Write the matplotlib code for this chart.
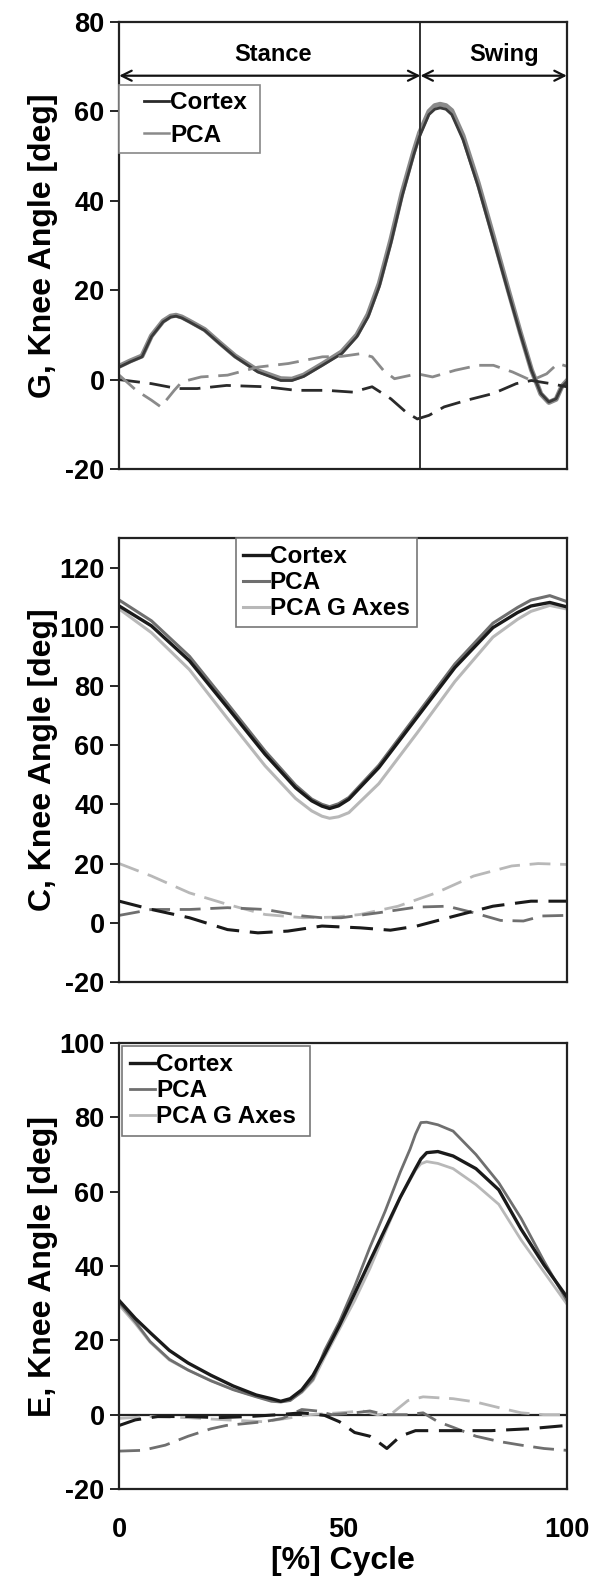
import numpy as np
import matplotlib
matplotlib.use('Agg')
import matplotlib.pyplot as plt
from matplotlib.lines import Line2D

plt.rcParams['font.family'] = ['Liberation Sans', 'DejaVu Sans']
plt.rcParams['font.weight'] = 'bold'
plt.rcParams['axes.unicode_minus'] = False

# ---- G panel ----
g_x = [0, 2.5, 5.1, 7.2, 9.8, 11.5, 12.7, 14, 15.7, 19.1, 22.5, 25.9, 31, 36.1, 38.6, 41.2, 45.4,
       49.7, 53.1, 55.6, 58.1, 60.7, 63.2, 65.8, 67.1, 69.2, 70.5, 71.7, 73, 74.3, 76.8, 80.2,
       83.6, 87, 89.6, 92.1, 94.2, 96, 97.6, 98.9, 100]
g_cortex = [2.8, 4, 5.1, 9.6, 12.9, 14.0, 14.2, 13.8, 12.9, 11, 8, 5.1, 1.7, -0.2, -0.2, 0.7,
            3.2, 5.8, 9.6, 14, 20.8, 30.5, 41, 50.3, 54.4, 59.3, 60.5, 60.8, 60.5, 59.3, 53.7,
            43.2, 31.3, 19.3, 10.3, 2.1, -3.1, -5, -4.3, -1.6, -0.5]
g_pca = [3.0, 4.2, 5.3, 9.8, 13.1, 14.2, 14.4, 14.0, 13.1, 11.2, 8.2, 5.3, 2.0, 0.2, 0.1, 1.0,
         3.5, 6.2, 10.0, 14.6, 21.5, 31.3, 41.8, 51.0, 55.2, 60.0, 61.3, 61.6, 61.3, 60.2, 54.6,
         44.0, 32.0, 19.8, 10.6, 2.2, -3.2, -5.1, -4.4, -1.5, -0.3]

g_dash_x = [0, 7.2, 13, 17.4, 24, 32.7, 39.5, 46.3, 52.2, 56.5, 60.7, 64.1, 66.6, 69.2, 72.6,
            77.7, 83.6, 88.7, 92.1, 96.4, 100]
g_cortex_dash = [0, -0.9, -2, -2, -1.3, -1.6, -2.4, -2.4, -2.8, -1.6, -4.3, -7.3, -8.8, -8,
                 -6.1, -4.6, -3.1, -0.9, -0.2, -0.9, -1.6]
g_pca_dash_x = [0, 3.8, 7.2, 9.3, 12.3, 14, 18.3, 24.2, 31, 37.8, 45.4, 49.7, 53.9, 56.5, 59,
                61.5, 66.6, 70, 75.1, 80.2, 83.6, 87.9, 92.1, 95.5, 98, 100]
g_pca_dash = [1, -2.4, -4.6, -6.1, -2.4, -0.5, 0.6, 1, 2.8, 3.6, 5.1, 5.2, 5.8, 5.1, 2.1,
              0.2, 1.3, 0.6, 2.1, 3.2, 3.2, 1.7, -0.2, 1.3, 3.6, 3.0]

# ---- C panel ----
c_x = [0, 7.2, 15.7, 24.2, 32.6, 39.4, 43, 45.3, 47, 49, 51.3, 58, 66.5, 75, 83.5, 89, 92, 96.2, 100]
c_cortex = [107, 100.3, 88.5, 72.7, 56.9, 45.6, 41.2, 39.4, 38.6, 39.5, 41.7, 52.4, 69.3, 86.2,
            99.7, 104.8, 107, 108.2, 106.7]
c_pca = [109, 102.0, 90.0, 74.0, 58.0, 46.5, 41.8, 40.0, 39.2, 40.2, 42.3, 53.2, 70.3, 87.4,
         101.2, 106.5, 109.0, 110.5, 108.5]
c_pca_g = [106, 98.0, 85.5, 69.0, 53.0, 42.0, 37.8, 36.0, 35.3, 35.8, 37.2, 47.0, 64.0, 81.5,
           96.5, 102.5, 105.2, 107.2, 106.0]

c_dash_x = [0, 7.2, 15.7, 24.2, 31, 37.7, 45.3, 53.8, 60.6, 66.5, 75, 83.5, 92, 100]
c_cortex_dash = [7.3, 4.5, 1.7, -2.3, -3.4, -2.8, -1.1, -1.7, -2.5, -1.1, 2.3, 5.6, 7.3, 7.3]
c_pca_dash_x = [0, 7.2, 15.7, 24.2, 32.6, 41, 45.3, 49.6, 58, 66.5, 73.3, 79.2, 85.2, 90.3, 94.5, 100]
c_pca_dash = [2.5, 4.5, 4.5, 5.1, 4.5, 2.3, 1.7, 1.7, 3.4, 5.3, 5.6, 3.4, 0.8, 0.6, 2.3, 2.5]
c_pcag_dash_x = [0, 7.2, 15.7, 24.2, 32.6, 41.1, 47.9, 53.8, 62.3, 70.8, 79.2, 87.7, 93.6, 100]
c_pcag_dash = [20, 15.8, 10.1, 6.2, 2.8, 1.7, 1.9, 2.8, 5.6, 10.1, 15.8, 19.2, 20, 19.7]

# ---- E panel ----
e_x = [0, 3.6, 6.9, 11.2, 15.4, 20.5, 25.5, 30.6, 34, 36.1, 38.2, 40.8, 43.3, 45.9, 49.2, 52.6,
       56, 59.4, 62.8, 65, 66.2, 67.4, 68.7, 71.2, 74.6, 79.7, 84.8, 89.8, 94.9, 100]
e_cortex = [30.7, 25.9, 22.1, 17.3, 13.9, 10.6, 7.7, 5.3, 4.3, 3.6, 4.3, 6.7, 10.6, 16.3, 24,
            32.6, 41.3, 49.9, 58.5, 63.5, 66.2, 68.8, 70.5, 70.8, 69.6, 66.2, 60.5, 49.9, 40.3, 31.7]
e_pca = [30.2, 25, 19.7, 14.9, 12, 9.1, 6.7, 4.8, 3.6, 3.4, 3.8, 6.2, 9.6, 17.3, 25, 34.5,
         45, 54.7, 65.3, 71.5, 75.5, 78.6, 78.7, 78.0, 76.3, 70.0, 62.4, 52.8, 41.3, 30.7]
e_pca_g = [29.5, 24.5, 19.5, 14.7, 12, 9.2, 6.8, 4.9, 3.8, 3.5, 3.9, 6.0, 9.2, 15.5, 23,
           30.7, 39.3, 49, 58.5, 63.2, 65.8, 67.5, 68.1, 67.6, 66.2, 61.9, 56.6, 47, 38.4, 29.8]

e_cortex_dash_x = [0, 3.6, 8.6, 15.4, 22.2, 28.9, 35.7, 40.8, 45.9, 49.2, 52.6, 56, 57.7, 59.8,
                   62.8, 66.2, 74.6, 83.1, 91.5, 100]
e_cortex_dash = [-2.9, -1.4, -0.5, -0.5, -0.8, -0.5, 0, 0.5, -0.2, -1.9, -4.8, -5.8, -7.2, -9.1,
                 -5.8, -4.3, -4.3, -4.3, -3.8, -2.9]
e_pca_dash_x = [0, 5.2, 10.3, 15.4, 20.5, 23.9, 28.1, 32.3, 36.5, 40.8, 44.2, 47.5, 52.6, 56,
                59.4, 64.5, 67.9, 71.2, 74.6, 79.7, 84.8, 89.8, 94.9, 100]
e_pca_dash = [-9.8, -9.6, -8.2, -5.8, -3.8, -2.9, -2.4, -1.9, -1, 1.4, 1, 0, 0.5, 1, 0, 0, 0.5,
              -1.9, -3.4, -5.8, -7.2, -8.2, -9.1, -9.6]
e_pcag_dash_x = [0, 6.9, 15.4, 23.9, 32.3, 37.4, 42.5, 49.2, 54.3, 57.7, 61.1, 64.5, 67.9, 74.6,
                 79.7, 84.8, 89.8, 94.9, 100]
e_pcag_dash = [-1, -0.5, -0.8, -1.4, -1.9, -1, 0, 0.5, 1, 0, 0.5, 3.8, 4.8, 4.3, 3.4, 1.9, 0.5,
               0, 0]

stance_end = 67.3
c_black = '#1a1a1a'
c_mid = '#6f6f6f'
c_light = '#b8b8b8'
dash = (0, (7.5, 3.5))

fig = plt.figure(figsize=(5.96, 15.77), dpi=100)
ax1 = fig.add_axes([0.2, 0.7026, 0.751, 0.2834])
ax2 = fig.add_axes([0.2, 0.3773, 0.751, 0.2816])
ax3 = fig.add_axes([0.2, 0.0558, 0.751, 0.2828])


def style_axes(ax, ylim, yticks, ylabel):
    ax.set_xlim(0, 100)
    ax.set_ylim(*ylim)
    ax.set_yticks(yticks)
    ax.tick_params(axis='y', direction='out', length=6.5, width=1.2, labelsize=19.5, pad=4)
    ax.tick_params(axis='x', length=0, labelsize=19.5, pad=20)
    for s in ax.spines.values():
        s.set_linewidth(1.6)
        s.set_color('#222222')
    ax.set_ylabel(ylabel, fontsize=23, fontweight='bold')
    ax.yaxis.set_label_coords(-0.137, 0.5)


def add_legend(ax, handles, labels, loc, anchor, spacing, color):
    leg = ax.legend(handles, labels, loc=loc, bbox_to_anchor=anchor, borderaxespad=0,
                    fontsize=17.5, handlelength=1.05, handletextpad=0.05, labelspacing=spacing,
                    borderpad=0.3, fancybox=False, framealpha=1)
    leg.get_frame().set_edgecolor(color)
    leg.get_frame().set_linewidth(1.2)
    return leg


# panel G
ax1.plot(g_x, g_pca, color='#8a8a8a', lw=3.6)
ax1.plot(g_x, g_cortex, color='#3a3a3a', lw=2.0)
ax1.plot(g_dash_x, g_cortex_dash, color='#2a2a2a', lw=2.0, linestyle=dash)
ax1.plot(g_pca_dash_x, g_pca_dash, color='#8a8a8a', lw=2.0, linestyle=dash)
ax1.axvline(stance_end, color='#333333', lw=1.4)
ax1.annotate('', xy=(0, 68), xytext=(stance_end, 68),
             arrowprops=dict(arrowstyle='<->', lw=1.6, color='#111111', shrinkA=0, shrinkB=0,
                             mutation_scale=18))
ax1.annotate('', xy=(stance_end, 68), xytext=(100, 68),
             arrowprops=dict(arrowstyle='<->', lw=1.6, color='#111111', shrinkA=0, shrinkB=0,
                             mutation_scale=18))
ax1.text(34.4, 72.8, 'Stance', ha='center', va='center', fontsize=17, fontweight='bold')
ax1.text(86, 72.8, 'Swing', ha='center', va='center', fontsize=17, fontweight='bold')
style_axes(ax1, (-20, 80), [-20, 0, 20, 40, 60, 80], 'G, Knee Angle [deg]')
ax1.set_xticks([0, 50, 100])
ax1.set_xticklabels([])
g_handles = [Line2D([], [], color='#2a2a2a', lw=2.0), Line2D([], [], color='#8a8a8a', lw=1.8)]
leg1 = ax1.legend(g_handles, ['Cortex ', 'PCA'], loc='upper left', bbox_to_anchor=(0, 0.859),
                  borderaxespad=0, fontsize=17.5, handlelength=1.8, handletextpad=0.05,
                  labelspacing=0.4, borderpad=0.25, fancybox=False, framealpha=1)
leg1.get_frame().set_edgecolor('#888888')
leg1.get_frame().set_linewidth(1.2)
for line in leg1.get_lines():
    xd = np.asarray(line.get_xdata(), dtype=float)
    yd = np.asarray(line.get_ydata(), dtype=float)
    start = xd[0] + (xd[-1] - xd[0]) * 0.42
    line.set_data([start, xd[-1]], [yd[0], yd[-1]])

# panel C
ax2.plot(c_x, c_pca_g, color=c_light, lw=2.2, label='PCA G Axes')
ax2.plot(c_x, c_pca, color=c_mid, lw=2.2, label='PCA')
ax2.plot(c_x, c_cortex, color=c_black, lw=2.4, label='Cortex')
ax2.plot(c_pcag_dash_x, c_pcag_dash, color=c_light, lw=2.0, linestyle=dash)
ax2.plot(c_pca_dash_x, c_pca_dash, color=c_mid, lw=2.0, linestyle=dash)
ax2.plot(c_dash_x, c_cortex_dash, color=c_black, lw=2.2, linestyle=dash)
style_axes(ax2, (-20, 130), [-20, 0, 20, 40, 60, 80, 100, 120], 'C, Knee Angle [deg]')
ax2.set_xticks([0, 50, 100])
ax2.set_xticklabels([])
h, l = ax2.get_legend_handles_labels()
add_legend(ax2, h[::-1], l[::-1], 'upper center', (0.463, 1.0), 0.12, '#777777')

# panel E
ax3.axhline(0, color='#222222', lw=1.6)
ax3.plot(e_x, e_pca_g, color=c_light, lw=2.0, label='PCA G Axes ')
ax3.plot(e_x, e_pca, color=c_mid, lw=2.0, label='PCA')
ax3.plot(e_x, e_cortex, color=c_black, lw=2.4, label='Cortex')
ax3.plot(e_pcag_dash_x, e_pcag_dash, color=c_light, lw=2.0, linestyle=dash)
ax3.plot(e_pca_dash_x, e_pca_dash, color=c_mid, lw=2.0, linestyle=dash)
ax3.plot(e_cortex_dash_x, e_cortex_dash, color=c_black, lw=2.2, linestyle=dash)
style_axes(ax3, (-20, 100), [-20, 0, 20, 40, 60, 80, 100], 'E, Knee Angle [deg]')
ax3.set_xticks([0, 50, 100])
ax3.set_xticklabels(['0', '50', '100'])
ax3.set_xlabel('[%] Cycle', fontsize=23, fontweight='bold', labelpad=2)
h, l = ax3.get_legend_handles_labels()
add_legend(ax3, h[::-1], l[::-1], 'upper left', (0.007, 0.993), 0.12, '#777777')

fig.savefig('out.png', dpi=100)
